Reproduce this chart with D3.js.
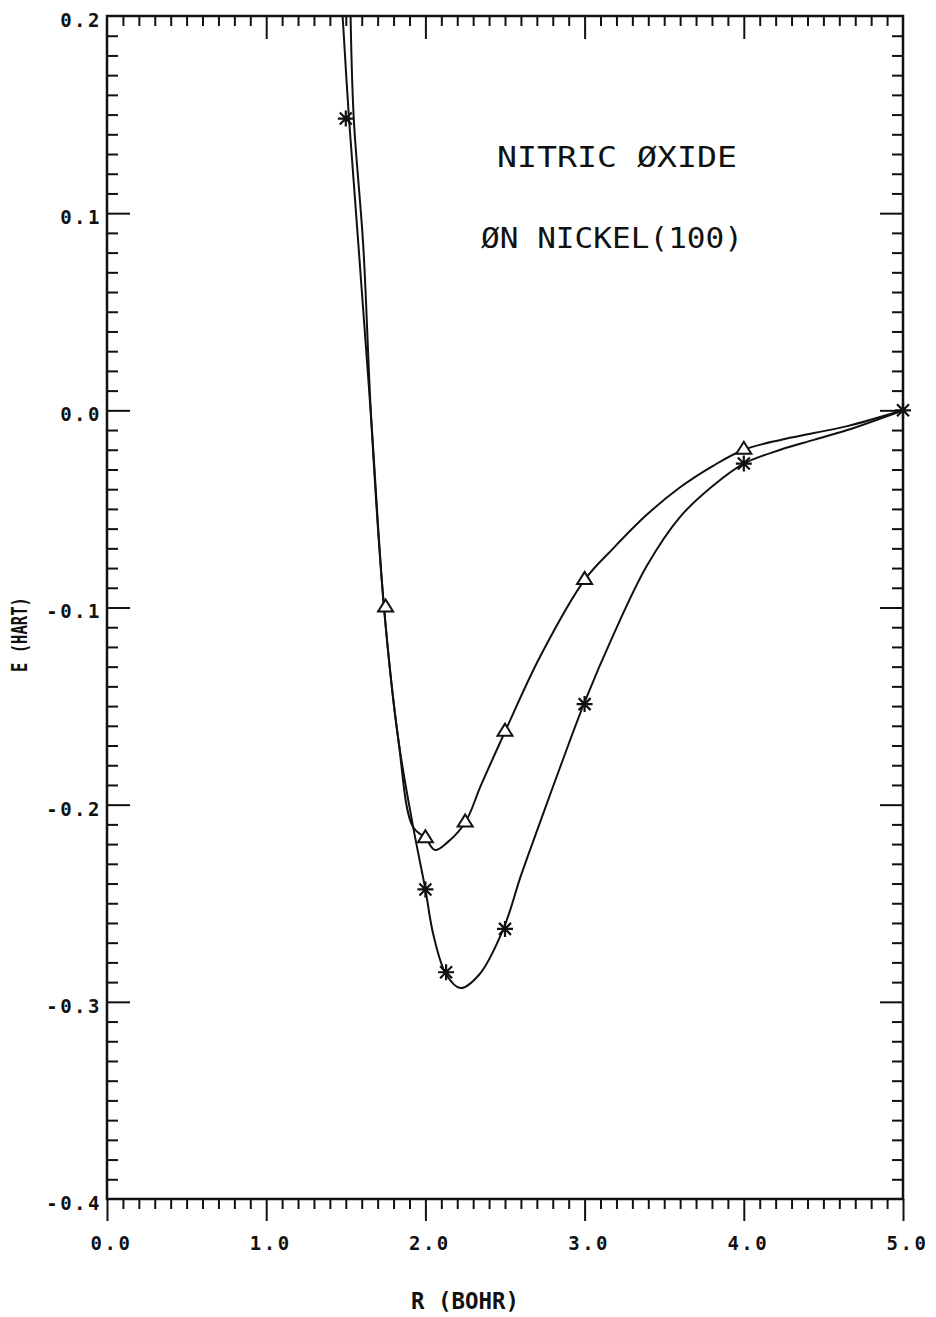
<!DOCTYPE html>
<html>
<head>
<meta charset="utf-8">
<script src="https://cdn.jsdelivr.net/npm/d3@7"></script>
<style>
  body { margin: 0; background: #fff; }
  svg { display: block; background: #fff; }
  text { font-family: "DejaVu Sans Mono", monospace; fill: #111; }
</style>
</head>
<body>
<svg id="chart" width="936" height="1317"></svg>
<script>
// plotted points (R in bohr, E in hartree)
const starR = [1.5, 2.0, 2.13, 2.5, 3.0, 4.0, 5.0];
const starE = [0.148, -0.243, -0.285, -0.263, -0.149, -0.027, 0.0];
const triR = [1.75, 2.0, 2.25, 2.5, 3.0, 4.0];
const triE = [-0.100, -0.217, -0.209, -0.163, -0.086, -0.020];

// the two pen curves
const starCurveR = [1.48, 1.52, 1.58, 1.66, 1.74, 1.83, 1.92, 2.0, 2.05, 2.13, 2.22, 2.34, 2.49, 2.60, 2.72, 2.86, 3.0, 3.18, 3.39, 3.6, 3.81, 4.0, 4.23, 4.44, 4.65, 5.0];
const starCurveE = [0.200, 0.148, 0.083, -0.005, -0.100, -0.167, -0.210, -0.243, -0.266, -0.286, -0.293, -0.286, -0.263, -0.236, -0.209, -0.178, -0.148, -0.114, -0.079, -0.054, -0.038, -0.027, -0.020, -0.015, -0.010, 0.0];
const triCurveR = [1.53, 1.55, 1.61, 1.66, 1.74, 1.83, 1.92, 2.0, 2.06, 2.14, 2.25, 2.35, 2.5, 2.72, 3.0, 3.18, 3.39, 3.6, 3.81, 4.0, 4.23, 4.44, 4.65, 5.0];
const triCurveE = [0.200, 0.148, 0.083, -0.005, -0.100, -0.167, -0.211, -0.217, -0.223, -0.219, -0.209, -0.190, -0.163, -0.125, -0.086, -0.070, -0.053, -0.039, -0.028, -0.020, -0.015, -0.0115, -0.008, 0.0];

// axes
const xMajor = [0, 1, 2, 3, 4, 5];
const xLabels = ["0.0", "1.0", "2.0", "3.0", "4.0", "5.0"];
const yMajor = [0.2, 0.1, 0.0, -0.1, -0.2, -0.3, -0.4];
const yLabels = ["0.2", "0.1", "0.0", "-0.1", "-0.2", "-0.3", "-0.4"];
const titleLines = ["NITRIC ØXIDE", "ØN NICKEL(100)"];
const xTitle = "R (BOHR)";
const yTitle = "E (HART)";

const plotLeft = 107, plotRight = 903, plotTop = 16, plotBottom = 1199;

const svg = d3.select("#chart");
const x = d3.scaleLinear().domain([0, 5]).range([plotLeft, plotRight]);
const y = d3.scaleLinear().domain([-0.4, 0.2]).range([plotBottom, plotTop]);

const xMinor = d3.range(0, 51).filter(i => i % 10 !== 0).map(i => i / 10);
const yMinor = d3.range(-40, 21).filter(i => i % 10 !== 0).map(i => i / 100);

function styleAxis(g) {
  g.select(".domain").remove();
  g.selectAll("line").attr("stroke", "#111").attr("stroke-width", 2);
}

function styleLabels(g) {
  g.selectAll("text")
    .attr("font-family", "DejaVu Sans Mono, monospace")
    .attr("font-size", 19)
    .attr("font-weight", "bold")
    .attr("letter-spacing", 2.5)
    .attr("fill", "#111");
}

// bottom: ticks hang below the frame
svg.append("g").attr("transform", "translate(0," + plotBottom + ")")
  .call(d3.axisBottom(x).tickValues(xMinor).tickSize(10).tickFormat(""))
  .call(styleAxis);
svg.append("g").attr("transform", "translate(0," + plotBottom + ")")
  .call(d3.axisBottom(x).tickValues(xMajor).tickSize(22).tickPadding(16)
    .tickFormat((d, i) => xLabels[i]))
  .call(styleAxis)
  .call(styleLabels)
  .call(g => g.selectAll("text").attr("dx", 4));

// top: ticks point into the plot
svg.append("g").attr("transform", "translate(0," + plotTop + ")")
  .call(d3.axisBottom(x).tickValues(xMinor).tickSize(10).tickFormat(""))
  .call(styleAxis);
svg.append("g").attr("transform", "translate(0," + plotTop + ")")
  .call(d3.axisBottom(x).tickValues(xMajor.slice(1, 5)).tickSize(23).tickFormat(""))
  .call(styleAxis);

// left and right: ticks point inward
svg.append("g").attr("transform", "translate(" + plotLeft + ",0)")
  .call(d3.axisRight(y).tickValues(yMinor).tickSize(11).tickFormat(""))
  .call(styleAxis);
svg.append("g").attr("transform", "translate(" + plotLeft + ",0)")
  .call(d3.axisRight(y).tickValues(yMajor.slice(1, 6)).tickSize(23).tickFormat(""))
  .call(styleAxis);
svg.append("g").attr("transform", "translate(" + plotRight + ",0)")
  .call(d3.axisLeft(y).tickValues(yMinor).tickSize(11).tickFormat(""))
  .call(styleAxis);
svg.append("g").attr("transform", "translate(" + plotRight + ",0)")
  .call(d3.axisLeft(y).tickValues(yMajor.slice(1, 6)).tickSize(23).tickFormat(""))
  .call(styleAxis);

// left labels
svg.append("g").attr("transform", "translate(" + plotLeft + ",0)")
  .call(d3.axisLeft(y).tickValues(yMajor).tickSize(0).tickPadding(5)
    .tickFormat((d, i) => yLabels[i]))
  .call(styleAxis)
  .call(styleLabels)
  .call(g => g.selectAll("text").attr("dy", "0.55em"));

// frame
svg.append("rect")
  .attr("x", plotLeft).attr("y", plotTop)
  .attr("width", plotRight - plotLeft).attr("height", plotBottom - plotTop)
  .attr("fill", "none").attr("stroke", "#111").attr("stroke-width", 2.5);

// curves
svg.append("clipPath").attr("id", "plot-clip")
  .append("rect").attr("x", plotLeft).attr("y", plotTop)
  .attr("width", plotRight - plotLeft).attr("height", plotBottom - plotTop);

const line = d3.line()
  .x(d => x(d[0]))
  .y(d => y(d[1]))
  .curve(d3.curveCatmullRom.alpha(0.5));

const curves = [
  d3.zip(starCurveR, starCurveE),
  d3.zip(triCurveR, triCurveE)
];
svg.append("g").attr("clip-path", "url(#plot-clip)")
  .selectAll("path")
  .data(curves)
  .join("path")
    .attr("d", line)
    .attr("fill", "none")
    .attr("stroke", "#111")
    .attr("stroke-width", 2)
    .attr("stroke-linejoin", "round");

// markers
const starPath = "M0,-8V8M-8,0H8M-6,-6L6,6M-6,6L6,-6";
const triPath = "M0,-8L7.5,4H-7.5Z";

svg.append("g").selectAll("path")
  .data(d3.zip(starR, starE))
  .join("path")
    .attr("transform", d => "translate(" + x(d[0]) + "," + y(d[1]) + ")")
    .attr("d", starPath)
    .attr("fill", "none")
    .attr("stroke", "#111")
    .attr("stroke-width", 2.2);

svg.append("g").selectAll("path")
  .data(d3.zip(triR, triE))
  .join("path")
    .attr("transform", d => "translate(" + x(d[0]) + "," + y(d[1]) + ")")
    .attr("d", triPath)
    .attr("fill", "#fff")
    .attr("stroke", "#111")
    .attr("stroke-width", 2);

// title
svg.append("text")
  .attr("x", 497).attr("y", 167)
  .attr("font-size", 29)
  .attr("textLength", 240)
  .attr("lengthAdjust", "spacingAndGlyphs")
  .text(titleLines[0]);
svg.append("text")
  .attr("x", 481).attr("y", 248)
  .attr("font-size", 29)
  .attr("textLength", 262)
  .attr("lengthAdjust", "spacingAndGlyphs")
  .text(titleLines[1]);

// axis titles
svg.append("text")
  .attr("x", 411).attr("y", 1309)
  .attr("font-size", 23)
  .attr("font-weight", "bold")
  .attr("textLength", 108)
  .attr("lengthAdjust", "spacingAndGlyphs")
  .text(xTitle);
svg.append("text")
  .attr("transform", "translate(27,672) rotate(-90)")
  .attr("font-size", 22)
  .attr("font-weight", "bold")
  .attr("textLength", 75)
  .attr("lengthAdjust", "spacingAndGlyphs")
  .text(yTitle);
</script>
</body>
</html>
